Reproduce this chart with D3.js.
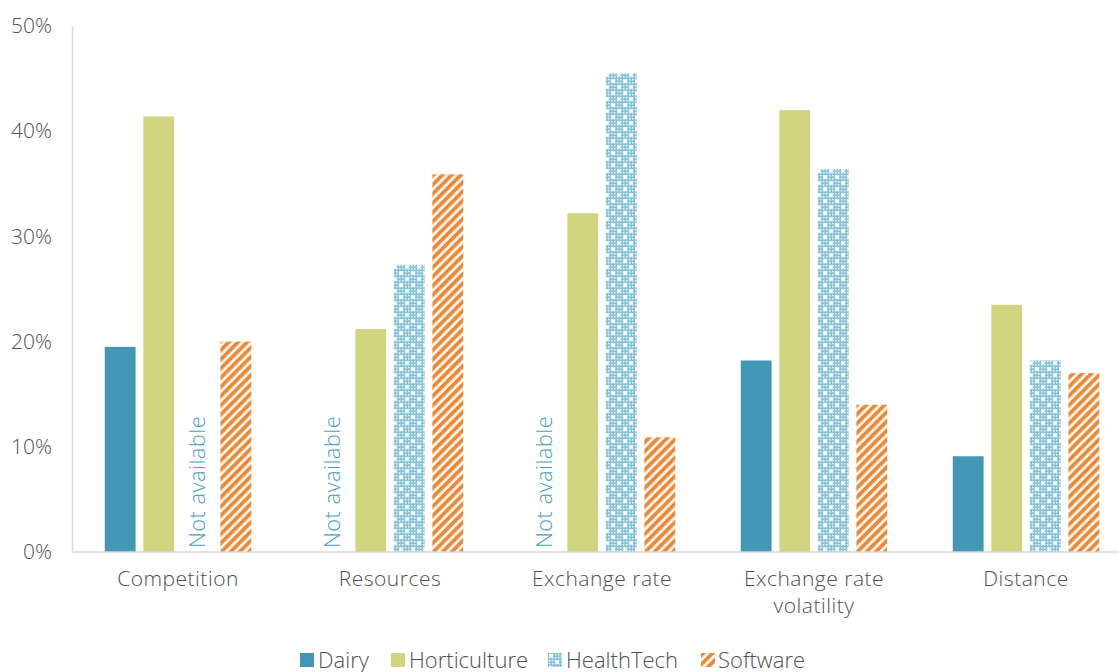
<!DOCTYPE html>
<html>
<head>
<meta charset="utf-8">
<script src="https://cdn.jsdelivr.net/npm/d3@7"></script>
<style>
  body { margin: 0; background: #fff; }
  text { font-family: "Open Sans", Lato, sans-serif; font-weight: 300; }
</style>
</head>
<body>
<svg id="chart" width="1119" height="672"></svg>
<script>
// chart data (null = not available)
const categories = ["Competition", "Resources", "Exchange rate", "Exchange rate volatility", "Distance"];
const seriesNames = ["Dairy", "Horticulture", "HealthTech", "Software"];
const dairy = [0.195, null, null, 0.182, 0.091];
const horticulture = [0.414, 0.212, 0.322, 0.420, 0.235];
const healthTech = [null, 0.273, 0.455, 0.364, 0.182];
const software = [0.200, 0.359, 0.109, 0.140, 0.170];
const yTicks = [0, 0.1, 0.2, 0.3, 0.4, 0.5];

const values = [dairy, horticulture, healthTech, software];

const marginLeft = 72, plotRight = 1132, marginTop = 26, baseY = 552;
const textColor = "#505050";

const svg = d3.select("#chart");
const defs = svg.append("defs");

// HealthTech: blue mesh with white sparkles
const ht = defs.append("pattern")
    .attr("id", "pat-health")
    .attr("patternUnits", "userSpaceOnUse")
    .attr("width", 12).attr("height", 12);
ht.append("rect").attr("width", 12).attr("height", 12).attr("fill", "#86c1d8");
for (let i = 0; i < 4; i++) {
  for (let j = 0; j < 4; j++) {
    ht.append("rect").attr("x", i * 3 + 1).attr("y", j * 3 + 1)
      .attr("width", 1.5).attr("height", 1.5).attr("fill", "#e8f4f8");
  }
}
[[3, 3], [9, 9]].forEach(([cx, cy]) => {
  ht.append("rect").attr("x", cx - 2).attr("y", cy - 0.8).attr("width", 4).attr("height", 1.6).attr("fill", "#fff");
  ht.append("rect").attr("x", cx - 0.8).attr("y", cy - 2).attr("width", 1.6).attr("height", 4).attr("fill", "#fff");
});

// Software: orange diagonal stripes
const sw = defs.append("pattern")
    .attr("id", "pat-soft")
    .attr("patternUnits", "userSpaceOnUse")
    .attr("width", 6.5).attr("height", 6.5)
    .attr("patternTransform", "rotate(45)");
sw.append("rect").attr("width", 6.5).attr("height", 6.5).attr("fill", "#fdf0e4");
sw.append("rect").attr("width", 3.6).attr("height", 6.5).attr("fill", "#e8893a");

const fills = ["#4397b5", "#d2d580", "url(#pat-health)", "url(#pat-soft)"];
const naColor = "#4a9ebd";

const x0 = d3.scaleBand().domain(categories).range([marginLeft, plotRight]).padding(0);
const x1 = d3.scaleBand().domain(seriesNames).range([0, x0.bandwidth()])
    .paddingInner(0.2).paddingOuter(0.85);
const y = d3.scaleLinear().domain([0, 0.5]).range([baseY, marginTop]);

// y axis
const yAxis = d3.axisLeft(y).tickValues(yTicks).tickFormat(d3.format(".0%")).tickSize(0).tickPadding(20);
svg.append("g")
    .attr("transform", `translate(${marginLeft},0)`)
    .call(yAxis)
    .call(g => g.select(".domain").attr("stroke", "#d9d9d9").attr("stroke-width", 1.5))
    .call(g => g.selectAll("text").attr("font-size", 21).attr("fill", textColor)
      .attr("font-family", "'Open Sans', sans-serif").attr("font-weight", 300));

// bars
const group = svg.append("g").selectAll("g")
  .data(categories)
  .join("g")
    .attr("transform", d => `translate(${x0(d)},0)`);

group.each(function(cat, ci) {
  const g = d3.select(this);
  seriesNames.forEach((s, si) => {
    const v = values[si][ci];
    if (v == null) {
      g.append("text")
        .attr("transform", `translate(${x1(s) + x1.bandwidth() / 2 + 8},${baseY - 4}) rotate(-90)`)
        .attr("font-size", 22)
        .attr("letter-spacing", 0.4)
        .attr("fill", naColor)
        .text("Not available");
    } else {
      g.append("rect")
        .attr("x", x1(s))
        .attr("y", y(v))
        .attr("width", x1.bandwidth())
        .attr("height", y(0) - y(v))
        .attr("fill", fills[si]);
    }
  });
});

// x baseline
svg.append("line")
  .attr("x1", marginLeft).attr("x2", 1119)
  .attr("y1", baseY).attr("y2", baseY)
  .attr("stroke", "#d9d9d9").attr("stroke-width", 1.5);

// category labels
const labelLines = {
  "Exchange rate volatility": ["Exchange rate", "volatility"]
};
svg.append("g").selectAll("text")
  .data(categories)
  .join("text")
    .attr("y", 586)
    .attr("text-anchor", "middle")
    .attr("font-size", 21)
    .attr("letter-spacing", 0.5)
    .attr("fill", textColor)
    .each(function(d) {
      const lines = labelLines[d] || [d];
      d3.select(this).selectAll("tspan")
        .data(lines)
        .join("tspan")
          .attr("x", x0(d) + x0.bandwidth() / 2)
          .attr("dy", (l, i) => i === 0 ? 0 : 27)
          .text(l => l);
    });

// legend
const legendX = [300, 391, 548, 701];
const legend = svg.append("g").selectAll("g")
  .data(seriesNames)
  .join("g")
    .attr("transform", (d, i) => `translate(${legendX[i]},653)`);
legend.append("rect")
  .attr("width", 14).attr("height", 14)
  .attr("fill", (d, i) => fills[i]);
legend.append("text")
  .attr("x", (d, i) => i === 3 ? 17 : 18)
  .attr("y", 15)
  .attr("font-size", 22)
  .attr("fill", textColor)
  .text(d => d);
</script>
</body>
</html>
